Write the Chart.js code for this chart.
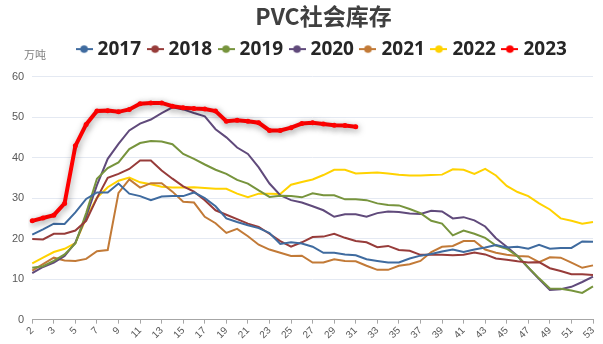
<!DOCTYPE html>
<html>
<head>
<meta charset="utf-8">
<script src="https://cdn.jsdelivr.net/npm/chart.js@4.4.1/dist/chart.umd.min.js"></script>
<style>
  html, body { margin: 0; padding: 0; background: #ffffff; }
  #wrap { width: 603px; height: 344px; }
</style>
</head>
<body>
<div id="wrap"><canvas id="chart" width="603" height="344"></canvas></div>
<script>
// 周次（横轴）
const weeks = ['2', '2', '3', '4', '5', '6', '7', '8', '9', '10', '11', '12', '13', '14', '15', '16', '17', '18',
    '19', '20', '21', '22', '23', '24', '25', '26', '27', '28', '29', '30', '31', '32', '33', '34', '35', '36',
    '37', '38', '39', '40', '41', '42', '43', '44', '45', '46', '47', '48', '49', '50', '51', '52', '53'];

const years = ['2017', '2018', '2019', '2020', '2021', '2022', '2023'];
const yTicks = [0, 10, 20, 30, 40, 50, 60];

// 社会库存（万吨）
const v2017 = [21, 22.3, 23.7, 23.6, 26.5, 29.8, 31.4, 31.4, 33.6, 31.1, 30.5, 29.5, 30.4, 30.5, 30.5, 31.4, 30, 28,
    25, 24.1, 23.3, 22.6, 21.4, 18.7, 19.1, 18.8, 18, 16.5, 16.5, 16.1, 15.9, 14.9, 14.5, 14.1, 14.1, 15.1, 15.8,
    16.2, 16.8, 17.3, 16.7, 17.3, 17.8, 18.4, 17.8, 18, 17.5, 18.5, 17.5, 17.7, 17.7, 19.3, 19.2];
const v2018 = [19.9, 19.8, 21.2, 21.2, 22, 24.4, 30, 35, 36, 37.2, 39.3, 39.3, 36.8, 34.8, 32.9, 31.6, 29.5, 27,
    25.9, 24.8, 23.7, 22.9, 21.2, 19.4, 18, 19.1, 20.4, 20.5, 21.2, 20.2, 19.4, 19.1, 17.9, 18.2, 17.2, 17, 16,
    16, 16, 15.9, 16, 16.6, 16.1, 15.1, 14.8, 14.4, 14.1, 14.2, 12.7, 12, 11.2, 11.2, 11];
const v2019 = [12.8, 13.2, 14.5, 16.1, 18.8, 26.3, 34.8, 37.4, 38.8, 42.1, 43.6, 44.1, 44, 43.3, 40.9, 39.7, 38.3,
    37, 36, 34.5, 33.6, 31.9, 30.3, 30.6, 30.5, 30.2, 31.2, 30.7, 30.7, 29.7, 29.7, 29.5, 28.7, 28.3, 28.2, 27.3,
    26.3, 24.4, 23.7, 20.8, 22, 21.2, 20.2, 18.3, 17.5, 15.7, 12.9, 10.2, 7.7, 7.6, 7.2, 6.6, 8.2];
const v2020 = [11.5, 13, 14.1, 15.7, 19, 25.4, 33.2, 39.7, 43.4, 46.7, 48.4, 49.4, 51, 52.4, 51.9, 51, 50.2, 47,
    45, 42.5, 40.9, 37.6, 33.6, 30.7, 29.5, 28.9, 28, 27, 25.4, 26, 26, 25.4, 26.3, 26.7, 26.6, 26.2, 26.1, 26.9,
    26.7, 25, 25.3, 24.5, 23, 20.1, 18, 15.7, 12.8, 10, 7.3, 7.5, 8.1, 9.3, 10.6];
const v2021 = [12.1, 13.7, 15.3, 14.6, 14.5, 15, 16.9, 17.2, 31.3, 34.6, 32.6, 33.7, 33.7, 31.6, 29.1, 28.9, 25.4,
    23.8, 21.4, 22.4, 20.6, 18.5, 17.3, 16.5, 15.7, 15.8, 14.1, 14.1, 14.9, 14.5, 14.4, 13.3, 12.3, 12.3, 13.3,
    13.7, 14.5, 16.7, 18, 18.2, 19.4, 19.4, 17.3, 16.5, 16, 15.7, 15.6, 14.2, 15.4, 15.3, 14.1, 12.8, 13.4];
const v2022 = [13.9, 15.3, 16.7, 17.5, 18.9, 25, 30.1, 32.7, 34.3, 35.1, 33.9, 33.4, 32.8, 32.6, 32.6, 32.7, 32.5,
    32.3, 32.3, 31.1, 30.2, 31.1, 31.1, 31, 33.3, 34, 34.6, 35.7, 37, 37, 36.1, 36.2, 36.3, 36.1, 35.8, 35.6, 35.6,
    35.7, 35.8, 37.1, 37, 36, 37.2, 35.6, 33, 31.5, 30.5, 28.7, 27.2, 25, 24.4, 23.7, 24.1];
const v2023 = [24.4, 25.1, 25.8, 28.7, 42.9, 48.2, 51.5, 51.6, 51.3, 51.9, 53.3, 53.5, 53.5, 52.7, 52.3, 52.1, 52,
    51.5, 49, 49.2, 49, 48.6, 46.7, 46.7, 47.4, 48.4, 48.6, 48.3, 48, 47.9, 47.6];

const seriesValues = [v2017, v2018, v2019, v2020, v2021, v2022, v2023];
const colors = ['#3f6b9f', '#973c3a', '#77943d', '#604a7b', '#c27a37', '#ffd200', '#ff0000'];

// 图例标记：线段加圆点
function legendMark(color) {
    const c = document.createElement('canvas');
    c.width = 17;
    c.height = 10;
    const g = c.getContext('2d');
    g.strokeStyle = color;
    g.lineWidth = 2;
    g.beginPath();
    g.moveTo(0, 5);
    g.lineTo(17, 5);
    g.stroke();
    g.fillStyle = color;
    g.beginPath();
    g.arc(8.5, 5, 3.8, 0, Math.PI * 2);
    g.fill();
    return c;
}

const datasets = years.map((y, i) => {
    const isNow = i === years.length - 1;
    return {
        label: y,
        data: seriesValues[i],
        borderColor: colors[i],
        backgroundColor: colors[i],
        borderWidth: isNow ? 4 : 2,
        pointRadius: isNow ? 2.5 : 0,
        pointBorderWidth: 0,
        tension: 0,
        order: isNow ? 0 : 1
    };
});

// 2023 曲线阴影
const shadowPlugin = {
    id: 'shadow',
    beforeDatasetDraw(chart, args) {
        if (args.index !== years.length - 1) return;
        const ctx = chart.ctx;
        ctx.save();
        ctx.shadowColor = 'rgba(0,0,0,0.35)';
        ctx.shadowBlur = 7;
        ctx.shadowOffsetX = 1;
        ctx.shadowOffsetY = 2;
    },
    afterDatasetDraw(chart, args) {
        if (args.index !== years.length - 1) return;
        chart.ctx.restore();
    }
};

// 图例下方留白，标题和图例整体右移
const headerPlugin = {
    id: 'header',
    afterInit(chart) {
        const lg = chart.legend;
        const fit = lg.fit;
        lg.fit = function () {
            fit.call(this);
            this.height += 8;
        };
    },
    afterLayout(chart) {
        const dx = 25;
        [chart.legend, chart.titleBlock].forEach(b => {
            b.left += dx;
            b.right += dx;
        });
    }
};

// 单位 "万吨"
const unitPlugin = {
    id: 'unit',
    afterDraw(chart) {
        const ctx = chart.ctx;
        ctx.save();
        ctx.fillStyle = '#7f7f7f';
        ctx.font = '11px "Noto Sans CJK SC"';
        ctx.textAlign = 'left';
        ctx.textBaseline = 'middle';
        ctx.fillText('万吨', 24, 55);
        ctx.restore();
    }
};

new Chart(document.getElementById('chart').getContext('2d'), {
    type: 'line',
    data: { labels: weeks, datasets: datasets },
    plugins: [shadowPlugin, headerPlugin, unitPlugin],
    options: {
        responsive: false,
        animation: false,
        layout: { padding: { left: 4, right: 10, top: 2, bottom: 2 } },
        plugins: {
            title: {
                display: true,
                text: 'PVC社会库存',
                color: '#404040',
                font: { family: '"Noto Sans CJK SC"', size: 23, weight: 'bold' },
                padding: { top: 0, bottom: 0 }
            },
            legend: {
                position: 'top',
                labels: {
                    color: '#262626',
                    font: { family: '"Noto Sans"', size: 19, weight: 'bold' },
                    usePointStyle: true,
                    pointStyleWidth: 8,
                    padding: 10,
                    generateLabels(chart) {
                        const items = Chart.defaults.plugins.legend.labels.generateLabels(chart);
                        items.sort((a, b) => a.datasetIndex - b.datasetIndex);
                        items.forEach(it => { it.pointStyle = legendMark(colors[it.datasetIndex]); });
                        return items;
                    }
                }
            },
            tooltip: { enabled: false }
        },
        scales: {
            x: {
                offset: false,
                grid: {
                    drawOnChartArea: false,
                    drawTicks: true,
                    tickLength: 4,
                    color: (c) => (c.index % 2 === 0 ? '#a6a6a6' : 'rgba(0,0,0,0)')
                },
                border: { color: '#a6a6a6' },
                ticks: {
                    autoSkip: false,
                    maxRotation: 45,
                    minRotation: 45,
                    color: '#595959',
                    font: { size: 10 },
                    padding: 1,
                    callback: function (value, index) {
                        return index % 2 === 0 ? weeks[index] : '';
                    }
                }
            },
            y: {
                min: yTicks[0],
                max: yTicks[yTicks.length - 1],
                afterBuildTicks(axis) { axis.ticks = yTicks.map(v => ({ value: v })); },
                grid: { color: '#e4e9f2', drawTicks: false },
                border: { display: false },
                ticks: {
                    color: '#595959',
                    font: { size: 11 },
                    padding: 8
                }
            }
        }
    }
});
</script>
</body>
</html>
